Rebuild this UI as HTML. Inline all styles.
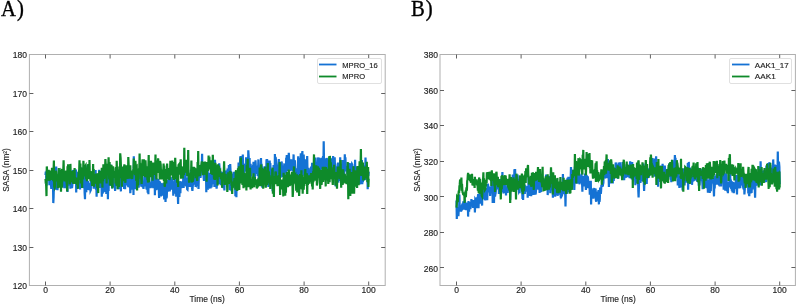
<!DOCTYPE html>
<html><head><meta charset="utf-8"><style>
html,body{margin:0;padding:0;background:#fff;width:799px;height:305px;overflow:hidden}
svg{display:block;will-change:transform;filter:blur(0.35px)}
.t{font-family:"Liberation Sans",sans-serif;font-size:8.5px;fill:#1e1e1e;stroke:#1e1e1e;stroke-width:0.15px}
.l{font-family:"Liberation Sans",sans-serif;font-size:7.6px;fill:#1e1e1e;stroke:#1e1e1e;stroke-width:0.15px}
.p{font-family:"Liberation Serif",serif;font-size:22px;fill:#000;stroke:#000;stroke-width:0.35px}
</style></head><body>
<svg width="799" height="305" viewBox="0 0 799 305">
<rect width="799" height="305" fill="#fff"/>
<text transform="translate(1,15.7) scale(0.943,1.08)" class="p">A<tspan dx="1">)</tspan></text>
<text transform="translate(411,15.7) scale(0.943,1.08)" class="p">B<tspan dx="1">)</tspan></text>
<polyline points="45.5,175.1 45.8,171.5 46.1,174.6 46.5,185.8 46.8,170.5 47.1,173.7 47.4,180.7 47.8,173.3 48.1,175.2 48.4,176.2 48.7,178.5 49.1,175.5 49.4,185.1 49.7,181.7 50.0,184.6 50.4,177.7 50.7,182.2 51.0,185.0 51.3,188.8 51.6,185.6 52.0,184.0 52.3,186.2 52.6,175.4 52.9,177.4 53.3,203.1 53.6,197.3 53.9,185.1 54.2,186.6 54.6,181.8 54.9,181.3 55.2,167.7 55.5,189.6 55.9,183.9 56.2,166.6 56.5,175.8 56.8,175.1 57.1,182.8 57.5,190.2 57.8,177.2 58.1,177.2 58.4,186.2 58.8,182.2 59.1,177.8 59.4,183.8 59.7,177.9 60.1,176.6 60.4,177.2 60.7,181.1 61.0,173.6 61.4,171.8 61.7,175.9 62.0,184.0 62.3,173.5 62.6,182.3 63.0,172.9 63.3,186.6 63.6,173.0 63.9,179.6 64.3,188.3 64.6,182.0 64.9,179.6 65.2,178.2 65.6,187.0 65.9,188.0 66.2,179.0 66.5,183.7 66.9,178.9 67.2,175.3 67.5,192.0 67.8,178.7 68.1,171.9 68.5,182.3 68.8,185.7 69.1,174.6 69.4,177.7 69.8,173.0 70.1,181.2 70.4,188.7 70.7,178.8 71.1,180.8 71.4,171.9 71.7,175.6 72.0,188.0 72.4,184.7 72.7,170.1 73.0,171.4 73.3,180.4 73.6,175.9 74.0,172.8 74.3,172.7 74.6,170.0 74.9,174.4 75.3,177.0 75.6,178.3 75.9,169.4 76.2,192.5 76.6,178.1 76.9,177.1 77.2,187.4 77.5,175.4 77.9,182.4 78.2,172.1 78.5,179.1 78.8,173.8 79.1,170.1 79.5,176.1 79.8,184.9 80.1,189.5 80.4,167.0 80.8,180.0 81.1,184.2 81.4,178.6 81.7,181.1 82.1,174.0 82.4,179.9 82.7,180.2 83.0,185.4 83.4,177.5 83.7,188.2 84.0,176.7 84.3,171.0 84.6,192.4 85.0,199.3 85.3,178.2 85.6,165.2 85.9,190.1 86.3,192.2 86.6,179.7 86.9,189.9 87.2,187.8 87.6,186.9 87.9,180.9 88.2,187.4 88.5,182.6 88.9,185.6 89.2,190.1 89.5,186.2 89.8,190.2 90.1,183.2 90.5,190.7 90.8,190.1 91.1,172.1 91.4,182.2 91.8,181.9 92.1,177.7 92.4,184.0 92.7,182.5 93.1,177.8 93.4,178.8 93.7,188.8 94.0,175.0 94.4,184.9 94.7,188.3 95.0,187.3 95.3,183.9 95.6,170.1 96.0,189.7 96.3,180.7 96.6,196.8 96.9,182.2 97.3,176.1 97.6,184.2 97.9,187.1 98.2,181.3 98.6,178.2 98.9,178.6 99.2,169.8 99.5,182.2 99.9,188.0 100.2,184.9 100.5,184.8 100.8,183.7 101.1,184.9 101.5,183.7 101.8,196.7 102.1,179.6 102.4,189.5 102.8,193.7 103.1,181.3 103.4,176.6 103.7,182.3 104.1,184.4 104.4,191.8 104.7,165.2 105.0,178.7 105.4,192.3 105.7,189.5 106.0,183.0 106.3,193.9 106.6,181.4 107.0,185.2 107.3,173.0 107.6,174.4 107.9,199.3 108.3,179.8 108.6,190.9 108.9,171.6 109.2,177.8 109.6,175.0 109.9,186.0 110.2,165.9 110.5,164.6 110.9,186.0 111.2,176.3 111.5,183.7 111.8,179.5 112.1,188.5 112.5,167.1 112.8,187.2 113.1,182.9 113.4,177.8 113.8,186.1 114.1,183.6 114.4,186.2 114.7,183.5 115.1,190.9 115.4,186.0 115.7,184.5 116.0,185.4 116.4,182.6 116.7,184.9 117.0,177.5 117.3,184.6 117.6,183.0 118.0,186.2 118.3,184.8 118.6,189.3 118.9,176.5 119.3,187.4 119.6,184.2 119.9,176.0 120.2,175.3 120.6,180.5 120.9,191.4 121.2,174.3 121.5,175.3 121.9,186.8 122.2,171.7 122.5,181.9 122.8,185.0 123.1,176.7 123.5,178.7 123.8,176.3 124.1,189.0 124.4,165.6 124.8,182.5 125.1,189.2 125.4,174.5 125.7,181.5 126.1,177.0 126.4,181.9 126.7,180.2 127.0,178.4 127.4,185.5 127.7,175.9 128.0,184.1 128.3,187.1 128.6,180.7 129.0,178.2 129.3,183.0 129.6,187.3 129.9,177.0 130.3,193.3 130.6,188.1 130.9,180.4 131.2,189.8 131.6,179.8 131.9,180.0 132.2,173.0 132.5,185.2 132.9,182.9 133.2,175.9 133.5,194.9 133.8,156.2 134.1,182.3 134.5,182.4 134.8,171.2 135.1,177.3 135.4,189.3 135.8,172.6 136.1,171.0 136.4,180.1 136.7,179.0 137.1,173.7 137.4,183.5 137.7,174.3 138.0,176.1 138.4,182.4 138.7,187.7 139.0,179.9 139.3,184.7 139.6,172.1 140.0,178.4 140.3,174.4 140.6,179.4 140.9,179.0 141.3,186.7 141.6,177.1 141.9,169.8 142.2,184.8 142.6,187.1 142.9,184.5 143.2,187.0 143.5,188.8 143.9,183.2 144.2,186.4 144.5,174.5 144.8,184.5 145.1,182.3 145.5,177.9 145.8,186.5 146.1,174.3 146.4,188.4 146.8,189.4 147.1,186.1 147.4,184.1 147.7,192.8 148.1,183.1 148.4,194.2 148.7,172.7 149.0,182.7 149.4,186.3 149.7,187.9 150.0,184.0 150.3,182.6 150.6,188.0 151.0,186.8 151.3,181.5 151.6,183.4 151.9,173.0 152.3,171.4 152.6,179.0 152.9,175.7 153.2,188.1 153.6,174.4 153.9,179.1 154.2,175.6 154.5,168.0 154.9,195.2 155.2,177.9 155.5,187.7 155.8,176.4 156.1,190.1 156.5,185.0 156.8,180.7 157.1,178.5 157.4,182.8 157.8,189.5 158.1,188.4 158.4,179.1 158.7,185.8 159.1,198.0 159.4,181.0 159.7,184.4 160.0,181.7 160.4,190.6 160.7,182.9 161.0,196.4 161.3,185.4 161.6,193.1 162.0,185.3 162.3,183.3 162.6,195.6 162.9,191.0 163.3,190.6 163.6,182.7 163.9,186.1 164.2,199.5 164.6,187.8 164.9,185.7 165.2,176.0 165.5,201.9 165.9,193.5 166.2,180.1 166.5,198.3 166.8,196.7 167.1,184.3 167.5,180.4 167.8,191.6 168.1,182.8 168.4,185.4 168.8,175.3 169.1,185.6 169.4,178.5 169.7,191.4 170.1,186.2 170.4,185.5 170.7,176.8 171.0,180.5 171.4,189.6 171.7,179.6 172.0,178.9 172.3,184.9 172.6,185.8 173.0,185.3 173.3,195.6 173.6,182.5 173.9,182.2 174.3,189.9 174.6,178.9 174.9,193.8 175.2,188.4 175.6,188.2 175.9,171.5 176.2,196.8 176.5,182.3 176.9,180.1 177.2,184.5 177.5,179.3 177.8,194.8 178.1,204.0 178.5,183.1 178.8,196.9 179.1,191.0 179.4,196.9 179.8,181.3 180.1,182.5 180.4,193.2 180.7,181.6 181.1,186.7 181.4,188.0 181.7,186.2 182.0,187.5 182.4,181.3 182.7,182.9 183.0,187.0 183.3,177.1 183.6,187.9 184.0,181.2 184.3,179.9 184.6,172.2 184.9,185.7 185.3,169.9 185.6,180.6 185.9,183.0 186.2,186.3 186.6,177.5 186.9,181.3 187.2,189.4 187.5,189.7 187.9,185.9 188.2,187.0 188.5,175.0 188.8,173.4 189.1,177.2 189.5,181.0 189.8,186.8 190.1,183.7 190.4,178.3 190.8,169.9 191.1,178.6 191.4,187.0 191.7,184.9 192.1,188.6 192.4,190.8 192.7,186.6 193.0,183.9 193.4,172.5 193.7,184.8 194.0,175.6 194.3,172.7 194.6,184.2 195.0,173.5 195.3,179.4 195.6,187.0 195.9,181.9 196.3,183.2 196.6,184.5 196.9,183.7 197.2,180.7 197.6,178.0 197.9,186.3 198.2,179.4 198.5,189.0 198.9,175.7 199.2,172.2 199.5,174.5 199.8,172.8 200.1,169.9 200.5,177.8 200.8,174.3 201.1,168.6 201.4,164.8 201.8,168.7 202.1,153.7 202.4,172.0 202.7,164.5 203.1,162.9 203.4,172.9 203.7,178.1 204.0,181.0 204.4,172.3 204.7,166.3 205.0,172.8 205.3,174.2 205.6,178.7 206.0,172.9 206.3,192.3 206.6,176.5 206.9,178.5 207.3,188.7 207.6,164.6 207.9,189.6 208.2,187.7 208.6,188.7 208.9,172.8 209.2,186.5 209.5,175.6 209.8,176.0 210.2,178.0 210.5,188.5 210.8,183.4 211.1,167.2 211.5,187.4 211.8,183.9 212.1,179.0 212.4,171.9 212.8,175.5 213.1,171.9 213.4,184.1 213.7,170.0 214.1,172.3 214.4,187.1 214.7,165.2 215.0,159.8 215.3,180.8 215.7,174.9 216.0,165.4 216.3,185.3 216.6,188.7 217.0,183.9 217.3,178.8 217.6,178.9 217.9,170.9 218.3,173.4 218.6,184.2 218.9,171.9 219.2,163.3 219.6,168.4 219.9,170.3 220.2,177.4 220.5,171.2 220.8,185.2 221.2,173.7 221.5,179.9 221.8,171.8 222.1,176.7 222.5,187.7 222.8,179.4 223.1,171.9 223.4,188.2 223.8,184.2 224.1,185.6 224.4,190.5 224.7,173.3 225.1,170.6 225.4,173.9 225.7,177.6 226.0,179.4 226.3,177.1 226.7,183.6 227.0,172.1 227.3,170.8 227.6,171.4 228.0,181.3 228.3,177.0 228.6,178.5 228.9,164.9 229.3,175.9 229.6,190.2 229.9,174.3 230.2,164.1 230.6,172.4 230.9,171.2 231.2,177.1 231.5,191.2 231.8,190.2 232.2,186.5 232.5,178.9 232.8,176.0 233.1,173.5 233.5,180.7 233.8,171.7 234.1,180.2 234.4,183.0 234.8,172.0 235.1,184.0 235.4,196.2 235.7,184.2 236.1,175.7 236.4,197.2 236.7,177.7 237.0,176.9 237.3,183.8 237.7,183.5 238.0,175.8 238.3,175.8 238.6,162.6 239.0,168.2 239.3,181.3 239.6,175.8 239.9,164.7 240.3,156.2 240.6,166.4 240.9,166.9 241.2,156.1 241.6,169.2 241.9,171.3 242.2,179.1 242.5,173.0 242.8,154.5 243.2,179.6 243.5,169.8 243.8,179.7 244.1,169.0 244.5,163.7 244.8,171.5 245.1,164.6 245.4,164.5 245.8,166.2 246.1,157.3 246.4,163.8 246.7,171.2 247.1,173.8 247.4,174.9 247.7,165.8 248.0,171.4 248.3,150.3 248.7,156.6 249.0,171.0 249.3,172.0 249.6,158.1 250.0,183.0 250.3,173.3 250.6,163.7 250.9,176.6 251.3,173.7 251.6,172.8 251.9,165.8 252.2,169.3 252.6,167.3 252.9,165.8 253.2,169.5 253.5,161.8 253.8,174.3 254.2,178.9 254.5,180.9 254.8,179.4 255.1,171.7 255.5,160.3 255.8,165.9 256.1,171.0 256.4,174.0 256.8,170.0 257.1,169.0 257.4,170.0 257.7,176.0 258.1,169.5 258.4,159.4 258.7,181.8 259.0,168.8 259.3,182.3 259.7,166.9 260.0,173.9 260.3,183.8 260.6,169.3 261.0,158.1 261.3,170.5 261.6,163.8 261.9,172.8 262.3,187.6 262.6,169.5 262.9,176.0 263.2,183.2 263.6,167.6 263.9,170.9 264.2,176.2 264.5,166.2 264.8,177.9 265.2,166.9 265.5,177.4 265.8,166.8 266.1,177.7 266.5,159.3 266.8,167.5 267.1,159.1 267.4,174.4 267.8,171.7 268.1,162.4 268.4,187.0 268.7,175.2 269.1,160.5 269.4,164.3 269.7,160.5 270.0,169.3 270.3,163.1 270.7,172.0 271.0,176.3 271.3,178.4 271.6,170.5 272.0,170.4 272.3,171.0 272.6,191.3 272.9,180.6 273.3,170.6 273.6,165.1 273.9,171.3 274.2,173.6 274.6,183.7 274.9,154.0 275.2,175.9 275.5,156.9 275.8,158.1 276.2,167.3 276.5,173.4 276.8,168.8 277.1,178.0 277.5,168.5 277.8,170.5 278.1,167.1 278.4,164.3 278.8,159.1 279.1,173.9 279.4,164.0 279.7,176.7 280.1,177.3 280.4,175.3 280.7,177.7 281.0,164.0 281.3,164.1 281.7,161.5 282.0,170.2 282.3,167.8 282.6,173.4 283.0,177.0 283.3,165.6 283.6,166.4 283.9,175.5 284.3,163.4 284.6,179.0 284.9,167.7 285.2,170.3 285.6,169.1 285.9,172.4 286.2,157.7 286.5,159.9 286.8,155.1 287.2,161.9 287.5,171.3 287.8,164.5 288.1,169.8 288.5,158.1 288.8,152.7 289.1,158.6 289.4,165.0 289.8,163.4 290.1,159.6 290.4,171.2 290.7,160.4 291.1,160.4 291.4,166.0 291.7,165.6 292.0,162.1 292.3,169.5 292.7,170.1 293.0,159.6 293.3,164.0 293.6,154.4 294.0,173.4 294.3,179.3 294.6,160.8 294.9,161.0 295.3,172.9 295.6,178.1 295.9,168.3 296.2,180.1 296.6,170.3 296.9,183.0 297.2,169.3 297.5,182.2 297.8,168.9 298.2,156.4 298.5,168.5 298.8,161.0 299.1,170.5 299.5,171.9 299.8,175.8 300.1,157.9 300.4,165.2 300.8,153.3 301.1,172.5 301.4,165.6 301.7,163.4 302.1,154.0 302.4,151.0 302.7,168.1 303.0,171.5 303.3,175.7 303.7,154.6 304.0,164.6 304.3,168.8 304.6,164.9 305.0,182.7 305.3,177.3 305.6,159.3 305.9,163.5 306.3,165.8 306.6,174.3 306.9,163.8 307.2,156.1 307.6,177.4 307.9,169.3 308.2,172.9 308.5,167.8 308.8,170.6 309.2,172.0 309.5,177.3 309.8,171.4 310.1,175.7 310.5,172.4 310.8,171.8 311.1,166.6 311.4,175.0 311.8,172.9 312.1,162.9 312.4,171.4 312.7,171.3 313.1,163.0 313.4,166.7 313.7,167.5 314.0,166.2 314.3,175.9 314.7,163.8 315.0,157.5 315.3,162.4 315.6,177.1 316.0,164.3 316.3,172.5 316.6,167.9 316.9,165.5 317.3,174.8 317.6,157.4 317.9,167.3 318.2,161.4 318.6,162.6 318.9,157.8 319.2,158.9 319.5,177.4 319.8,166.8 320.2,181.8 320.5,170.1 320.8,161.9 321.1,160.4 321.5,157.8 321.8,169.3 322.1,164.5 322.4,166.1 322.8,158.1 323.1,156.1 323.4,169.8 323.7,141.3 324.1,167.8 324.4,170.6 324.7,164.1 325.0,163.2 325.3,164.9 325.7,173.3 326.0,158.6 326.3,168.4 326.6,158.1 327.0,159.0 327.3,177.3 327.6,175.2 327.9,175.2 328.3,166.5 328.6,167.7 328.9,166.2 329.2,173.8 329.6,165.3 329.9,158.7 330.2,178.0 330.5,170.4 330.8,167.6 331.2,170.6 331.5,171.4 331.8,158.2 332.1,161.9 332.5,165.2 332.8,176.6 333.1,156.1 333.4,169.3 333.8,175.9 334.1,174.3 334.4,175.3 334.7,157.2 335.1,170.3 335.4,171.2 335.7,186.4 336.0,166.2 336.3,178.4 336.7,178.8 337.0,166.5 337.3,176.6 337.6,164.7 338.0,162.6 338.3,182.6 338.6,171.1 338.9,181.0 339.3,170.4 339.6,163.6 339.9,179.3 340.2,157.3 340.6,171.9 340.9,177.8 341.2,170.3 341.5,163.8 341.8,178.7 342.2,168.9 342.5,178.2 342.8,160.1 343.1,167.1 343.5,170.9 343.8,160.5 344.1,176.3 344.4,169.9 344.8,154.2 345.1,167.7 345.4,157.3 345.7,165.2 346.1,171.4 346.4,168.3 346.7,166.1 347.0,169.6 347.3,172.7 347.7,172.6 348.0,177.7 348.3,166.9 348.6,165.2 349.0,163.0 349.3,180.9 349.6,163.1 349.9,169.2 350.3,179.2 350.6,168.9 350.9,164.2 351.2,166.5 351.6,165.3 351.9,164.0 352.2,164.6 352.5,171.3 352.8,185.7 353.2,176.7 353.5,169.2 353.8,175.1 354.1,167.3 354.5,166.8 354.8,172.2 355.1,159.7 355.4,179.7 355.8,166.8 356.1,176.7 356.4,179.1 356.7,169.8 357.1,178.3 357.4,168.3 357.7,182.5 358.0,174.4 358.3,180.6 358.7,176.6 359.0,177.7 359.3,183.1 359.6,170.9 360.0,184.2 360.3,182.4 360.6,169.6 360.9,169.1 361.3,171.2 361.6,173.5 361.9,160.0 362.2,184.1 362.6,180.7 362.9,182.2 363.2,168.9 363.5,172.8 363.8,166.8 364.2,167.4 364.5,175.4 364.8,179.1 365.1,180.0 365.5,157.5 365.8,165.9 366.1,168.3 366.4,174.7 366.8,173.7 367.1,174.7 367.4,174.7 367.7,189.3 368.1,173.3 368.4,175.9 368.7,171.6" fill="none" stroke="#1472d4" stroke-width="2.2" stroke-linejoin="miter"/>
<polyline points="45.5,179.0 45.8,183.6 46.1,182.5 46.5,196.1 46.8,166.4 47.1,170.5 47.4,180.3 47.8,172.3 48.1,175.3 48.4,180.7 48.7,169.7 49.1,178.2 49.4,178.0 49.7,180.8 50.0,171.8 50.4,175.3 50.7,170.6 51.0,178.3 51.3,173.0 51.6,179.9 52.0,167.8 52.3,172.3 52.6,171.4 52.9,171.0 53.3,181.1 53.6,169.0 53.9,160.6 54.2,186.6 54.6,187.8 54.9,186.8 55.2,171.2 55.5,176.7 55.9,170.7 56.2,173.8 56.5,177.8 56.8,177.8 57.1,181.3 57.5,174.3 57.8,188.3 58.1,183.5 58.4,178.9 58.8,168.0 59.1,185.6 59.4,187.6 59.7,183.8 60.1,172.8 60.4,180.9 60.7,169.8 61.0,191.7 61.4,170.6 61.7,171.0 62.0,187.8 62.3,176.6 62.6,169.0 63.0,176.6 63.3,170.1 63.6,160.3 63.9,174.6 64.3,178.2 64.6,181.4 64.9,171.3 65.2,176.9 65.6,176.6 65.9,175.9 66.2,170.5 66.5,182.2 66.9,185.3 67.2,191.5 67.5,166.3 67.8,174.2 68.1,164.3 68.5,174.9 68.8,180.2 69.1,171.9 69.4,176.0 69.8,184.3 70.1,182.0 70.4,163.9 70.7,173.9 71.1,173.7 71.4,178.8 71.7,181.8 72.0,171.0 72.4,178.0 72.7,182.7 73.0,178.4 73.3,183.9 73.6,176.4 74.0,170.0 74.3,183.6 74.6,168.0 74.9,182.6 75.3,177.0 75.6,183.9 75.9,179.7 76.2,177.9 76.6,181.2 76.9,183.1 77.2,182.9 77.5,183.8 77.9,188.9 78.2,179.8 78.5,175.0 78.8,171.4 79.1,173.0 79.5,160.2 79.8,174.8 80.1,179.9 80.4,163.5 80.8,183.4 81.1,169.0 81.4,181.9 81.7,172.4 82.1,188.0 82.4,167.6 82.7,174.5 83.0,179.6 83.4,160.8 83.7,166.7 84.0,171.3 84.3,176.5 84.6,171.4 85.0,172.2 85.3,166.0 85.6,165.5 85.9,175.9 86.3,175.2 86.6,175.4 86.9,181.3 87.2,176.4 87.6,173.3 87.9,168.2 88.2,164.2 88.5,179.2 88.9,170.1 89.2,177.2 89.5,159.9 89.8,174.7 90.1,171.0 90.5,181.1 90.8,180.3 91.1,173.4 91.4,177.6 91.8,172.6 92.1,186.1 92.4,170.9 92.7,182.0 93.1,164.1 93.4,178.3 93.7,169.1 94.0,186.7 94.4,174.4 94.7,183.9 95.0,181.4 95.3,178.1 95.6,180.7 96.0,176.8 96.3,173.6 96.6,174.3 96.9,179.4 97.3,188.2 97.6,184.3 97.9,179.9 98.2,193.1 98.6,172.9 98.9,179.6 99.2,179.4 99.5,170.9 99.9,172.5 100.2,175.3 100.5,183.5 100.8,174.0 101.1,173.4 101.5,181.5 101.8,167.7 102.1,170.9 102.4,187.6 102.8,172.5 103.1,181.6 103.4,164.3 103.7,166.1 104.1,178.8 104.4,176.8 104.7,169.5 105.0,171.5 105.4,159.0 105.7,164.2 106.0,171.2 106.3,165.2 106.6,183.4 107.0,167.3 107.3,163.7 107.6,171.2 107.9,175.2 108.3,166.7 108.6,157.4 108.9,170.0 109.2,179.5 109.6,162.1 109.9,185.5 110.2,169.3 110.5,177.1 110.9,166.9 111.2,179.5 111.5,164.7 111.8,172.0 112.1,186.3 112.5,188.3 112.8,177.1 113.1,166.2 113.4,174.6 113.8,175.2 114.1,177.6 114.4,171.0 114.7,173.8 115.1,174.6 115.4,183.5 115.7,168.5 116.0,167.3 116.4,185.7 116.7,160.7 117.0,171.5 117.3,179.7 117.6,189.3 118.0,171.2 118.3,171.6 118.6,179.2 118.9,187.1 119.3,166.5 119.6,178.0 119.9,176.7 120.2,153.3 120.6,157.8 120.9,165.5 121.2,174.9 121.5,166.9 121.9,186.8 122.2,170.0 122.5,175.7 122.8,179.2 123.1,181.1 123.5,166.4 123.8,169.5 124.1,169.0 124.4,164.3 124.8,176.1 125.1,179.0 125.4,182.8 125.7,172.9 126.1,165.4 126.4,171.8 126.7,166.3 127.0,178.9 127.4,173.8 127.7,175.7 128.0,178.9 128.3,157.1 128.6,163.8 129.0,174.7 129.3,174.5 129.6,169.3 129.9,178.6 130.3,165.4 130.6,177.2 130.9,170.6 131.2,175.1 131.6,171.2 131.9,177.2 132.2,179.0 132.5,174.9 132.9,173.1 133.2,170.7 133.5,168.4 133.8,158.6 134.1,163.9 134.5,171.6 134.8,165.2 135.1,175.3 135.4,160.8 135.8,167.3 136.1,180.8 136.4,166.4 136.7,166.1 137.1,190.5 137.4,177.2 137.7,175.3 138.0,185.4 138.4,179.4 138.7,178.6 139.0,168.4 139.3,169.7 139.6,153.4 140.0,174.2 140.3,163.3 140.6,170.6 140.9,169.1 141.3,178.9 141.6,183.9 141.9,175.9 142.2,165.1 142.6,159.4 142.9,166.1 143.2,166.8 143.5,176.0 143.9,159.6 144.2,160.9 144.5,173.9 144.8,170.6 145.1,177.2 145.5,160.2 145.8,167.6 146.1,171.2 146.4,167.8 146.8,167.6 147.1,173.5 147.4,179.2 147.7,179.5 148.1,182.6 148.4,167.3 148.7,155.1 149.0,182.1 149.4,169.3 149.7,167.2 150.0,176.7 150.3,168.3 150.6,177.1 151.0,160.9 151.3,173.1 151.6,168.1 151.9,163.8 152.3,171.3 152.6,180.6 152.9,171.6 153.2,162.5 153.6,168.3 153.9,166.0 154.2,175.0 154.5,166.5 154.9,162.5 155.2,167.3 155.5,154.5 155.8,169.2 156.1,175.2 156.5,179.4 156.8,160.4 157.1,169.0 157.4,161.9 157.8,166.1 158.1,158.3 158.4,161.1 158.7,172.8 159.1,168.5 159.4,163.2 159.7,179.5 160.0,161.1 160.4,162.9 160.7,164.7 161.0,173.0 161.3,169.6 161.6,179.5 162.0,171.4 162.3,175.8 162.6,171.2 162.9,175.2 163.3,169.8 163.6,163.6 163.9,180.9 164.2,165.4 164.6,185.6 164.9,186.8 165.2,172.7 165.5,171.9 165.9,168.9 166.2,183.4 166.5,172.5 166.8,171.2 167.1,163.5 167.5,173.0 167.8,168.8 168.1,179.3 168.4,174.0 168.8,175.9 169.1,168.0 169.4,179.9 169.7,178.9 170.1,169.2 170.4,160.8 170.7,170.6 171.0,171.1 171.4,175.5 171.7,165.4 172.0,169.0 172.3,160.5 172.6,170.0 173.0,178.6 173.3,175.7 173.6,178.3 173.9,179.9 174.3,162.1 174.6,165.0 174.9,178.9 175.2,157.8 175.6,168.2 175.9,176.3 176.2,166.9 176.5,169.9 176.9,174.6 177.2,182.7 177.5,168.9 177.8,167.1 178.1,186.9 178.5,165.1 178.8,164.7 179.1,172.2 179.4,168.1 179.8,170.7 180.1,174.6 180.4,171.2 180.7,159.3 181.1,178.7 181.4,166.9 181.7,167.3 182.0,173.5 182.4,171.6 182.7,178.3 183.0,174.6 183.3,168.6 183.6,166.6 184.0,175.1 184.3,147.8 184.6,173.0 184.9,168.2 185.3,170.7 185.6,171.9 185.9,160.1 186.2,172.4 186.6,159.8 186.9,161.1 187.2,176.3 187.5,161.8 187.9,173.5 188.2,150.1 188.5,171.8 188.8,175.8 189.1,182.6 189.5,178.5 189.8,173.7 190.1,176.8 190.4,178.6 190.8,175.1 191.1,171.9 191.4,160.6 191.7,182.6 192.1,174.8 192.4,177.7 192.7,181.8 193.0,180.2 193.4,177.8 193.7,166.7 194.0,173.2 194.3,175.7 194.6,167.8 195.0,170.2 195.3,173.9 195.6,169.7 195.9,178.2 196.3,168.2 196.6,169.3 196.9,175.4 197.2,180.9 197.6,161.9 197.9,171.6 198.2,151.0 198.5,176.5 198.9,165.8 199.2,174.4 199.5,169.3 199.8,165.0 200.1,175.9 200.5,170.8 200.8,168.6 201.1,168.5 201.4,164.8 201.8,161.5 202.1,162.5 202.4,166.1 202.7,170.1 203.1,175.2 203.4,172.2 203.7,170.5 204.0,161.9 204.4,168.9 204.7,174.7 205.0,161.6 205.3,171.3 205.6,170.8 206.0,166.9 206.3,161.9 206.6,181.7 206.9,172.6 207.3,163.6 207.6,167.4 207.9,170.9 208.2,168.8 208.6,155.5 208.9,168.3 209.2,160.4 209.5,159.9 209.8,168.7 210.2,162.6 210.5,168.9 210.8,170.2 211.1,173.9 211.5,160.3 211.8,169.3 212.1,170.6 212.4,174.8 212.8,154.8 213.1,162.5 213.4,168.8 213.7,173.1 214.1,179.4 214.4,167.2 214.7,167.8 215.0,180.0 215.3,162.8 215.7,166.0 216.0,178.5 216.3,176.2 216.6,175.8 217.0,172.2 217.3,174.8 217.6,185.5 217.9,164.3 218.3,172.6 218.6,166.4 218.9,166.6 219.2,176.9 219.6,173.1 219.9,170.4 220.2,170.1 220.5,176.2 220.8,179.0 221.2,174.2 221.5,179.7 221.8,177.8 222.1,187.8 222.5,173.0 222.8,180.7 223.1,177.5 223.4,174.1 223.8,171.8 224.1,161.2 224.4,173.2 224.7,184.9 225.1,174.7 225.4,180.3 225.7,173.9 226.0,182.0 226.3,182.7 226.7,181.9 227.0,183.2 227.3,192.0 227.6,184.4 228.0,180.3 228.3,172.3 228.6,183.0 228.9,183.9 229.3,177.6 229.6,178.1 229.9,170.9 230.2,178.1 230.6,182.4 230.9,173.0 231.2,171.7 231.5,185.7 231.8,181.3 232.2,194.0 232.5,184.8 232.8,188.3 233.1,183.5 233.5,185.3 233.8,182.9 234.1,182.3 234.4,178.0 234.8,179.6 235.1,184.9 235.4,189.7 235.7,171.9 236.1,170.4 236.4,183.1 236.7,175.8 237.0,189.9 237.3,189.9 237.7,180.6 238.0,168.2 238.3,185.3 238.6,183.4 239.0,166.2 239.3,190.1 239.6,172.1 239.9,172.9 240.3,177.5 240.6,174.5 240.9,157.5 241.2,183.3 241.6,177.6 241.9,177.1 242.2,180.3 242.5,184.9 242.8,164.7 243.2,174.4 243.5,188.3 243.8,181.2 244.1,173.8 244.5,174.0 244.8,187.1 245.1,177.9 245.4,175.7 245.8,175.0 246.1,175.1 246.4,190.6 246.7,165.3 247.1,176.8 247.4,165.9 247.7,158.7 248.0,179.7 248.3,187.3 248.7,172.9 249.0,180.3 249.3,182.3 249.6,186.5 250.0,167.8 250.3,182.7 250.6,189.5 250.9,183.1 251.3,188.2 251.6,179.3 251.9,183.5 252.2,188.2 252.6,176.9 252.9,185.9 253.2,176.7 253.5,173.3 253.8,184.9 254.2,187.1 254.5,181.5 254.8,177.0 255.1,183.4 255.5,182.6 255.8,183.8 256.1,181.5 256.4,179.3 256.8,188.5 257.1,186.8 257.4,182.9 257.7,187.5 258.1,181.5 258.4,178.3 258.7,181.7 259.0,185.1 259.3,185.7 259.7,167.6 260.0,173.0 260.3,186.2 260.6,183.7 261.0,164.4 261.3,166.4 261.6,175.6 261.9,168.1 262.3,186.2 262.6,175.8 262.9,170.7 263.2,188.8 263.6,181.5 263.9,170.9 264.2,168.8 264.5,181.1 264.8,175.4 265.2,166.7 265.5,180.9 265.8,187.8 266.1,179.3 266.5,181.9 266.8,170.4 267.1,178.5 267.4,185.3 267.8,163.1 268.1,183.3 268.4,176.5 268.7,175.0 269.1,174.2 269.4,178.3 269.7,175.3 270.0,179.7 270.3,189.0 270.7,180.6 271.0,180.3 271.3,180.1 271.6,177.8 272.0,183.0 272.3,169.5 272.6,167.7 272.9,193.8 273.3,178.6 273.6,183.6 273.9,196.9 274.2,176.1 274.6,183.4 274.9,182.0 275.2,184.1 275.5,172.3 275.8,171.6 276.2,178.5 276.5,175.8 276.8,181.6 277.1,180.0 277.5,186.2 277.8,180.8 278.1,186.0 278.4,178.4 278.8,175.2 279.1,178.7 279.4,172.6 279.7,162.0 280.1,195.1 280.4,180.2 280.7,184.1 281.0,183.2 281.3,189.4 281.7,179.6 282.0,181.8 282.3,184.4 282.6,181.8 283.0,184.2 283.3,196.4 283.6,172.8 283.9,182.5 284.3,187.0 284.6,178.4 284.9,185.3 285.2,195.8 285.6,174.8 285.9,192.7 286.2,182.7 286.5,180.4 286.8,172.1 287.2,173.3 287.5,180.5 287.8,187.1 288.1,184.8 288.5,174.4 288.8,169.6 289.1,178.1 289.4,186.3 289.8,174.6 290.1,184.3 290.4,184.4 290.7,183.4 291.1,177.2 291.4,179.2 291.7,174.0 292.0,171.8 292.3,177.1 292.7,196.9 293.0,192.5 293.3,179.8 293.6,181.6 294.0,166.4 294.3,181.8 294.6,182.9 294.9,175.6 295.3,175.0 295.6,184.2 295.9,179.4 296.2,190.7 296.6,189.4 296.9,174.2 297.2,192.4 297.5,176.1 297.8,177.6 298.2,176.7 298.5,175.4 298.8,177.5 299.1,196.0 299.5,187.8 299.8,184.7 300.1,174.0 300.4,187.9 300.8,184.7 301.1,182.1 301.4,170.3 301.7,189.3 302.1,188.5 302.4,174.7 302.7,193.7 303.0,176.6 303.3,182.0 303.7,189.8 304.0,181.9 304.3,186.0 304.6,177.9 305.0,176.7 305.3,169.1 305.6,179.7 305.9,179.1 306.3,184.0 306.6,180.5 306.9,173.2 307.2,194.1 307.6,176.4 307.9,184.8 308.2,180.7 308.5,178.9 308.8,175.3 309.2,179.4 309.5,183.6 309.8,178.5 310.1,180.2 310.5,181.4 310.8,178.1 311.1,173.0 311.4,177.6 311.8,177.0 312.1,186.5 312.4,178.0 312.7,189.5 313.1,171.2 313.4,182.3 313.7,166.5 314.0,154.4 314.3,177.7 314.7,165.6 315.0,171.9 315.3,178.6 315.6,180.5 316.0,170.9 316.3,165.2 316.6,172.5 316.9,185.5 317.3,182.5 317.6,177.1 317.9,166.3 318.2,174.0 318.6,173.9 318.9,167.9 319.2,177.8 319.5,177.1 319.8,177.8 320.2,188.9 320.5,173.4 320.8,173.8 321.1,169.9 321.5,184.8 321.8,182.2 322.1,170.0 322.4,174.1 322.8,166.7 323.1,182.0 323.4,174.4 323.7,180.3 324.1,173.2 324.4,178.4 324.7,171.0 325.0,166.9 325.3,169.5 325.7,186.4 326.0,167.0 326.3,170.2 326.6,180.3 327.0,179.0 327.3,172.7 327.6,168.7 327.9,175.8 328.3,184.0 328.6,170.9 328.9,171.7 329.2,156.2 329.6,182.2 329.9,155.9 330.2,161.5 330.5,171.6 330.8,162.4 331.2,173.3 331.5,167.3 331.8,179.2 332.1,173.6 332.5,181.1 332.8,185.0 333.1,175.9 333.4,178.5 333.8,169.9 334.1,164.9 334.4,174.9 334.7,173.3 335.1,172.4 335.4,185.4 335.7,172.0 336.0,173.9 336.3,174.6 336.7,182.1 337.0,188.6 337.3,176.9 337.6,173.4 338.0,166.7 338.3,168.5 338.6,166.7 338.9,174.6 339.3,169.6 339.6,179.3 339.9,173.8 340.2,172.0 340.6,160.0 340.9,177.1 341.2,187.7 341.5,169.3 341.8,184.4 342.2,179.3 342.5,180.8 342.8,184.9 343.1,169.3 343.5,174.4 343.8,182.7 344.1,177.9 344.4,181.3 344.8,173.9 345.1,180.7 345.4,183.3 345.7,182.4 346.1,181.0 346.4,175.9 346.7,184.3 347.0,178.6 347.3,175.0 347.7,162.0 348.0,172.4 348.3,199.2 348.6,182.3 349.0,181.7 349.3,177.0 349.6,168.7 349.9,174.7 350.3,196.1 350.6,178.4 350.9,180.1 351.2,178.3 351.6,172.0 351.9,189.2 352.2,174.3 352.5,193.6 352.8,181.8 353.2,179.5 353.5,166.3 353.8,186.9 354.1,193.6 354.5,176.9 354.8,186.0 355.1,170.3 355.4,185.7 355.8,186.5 356.1,171.3 356.4,178.8 356.7,171.8 357.1,188.0 357.4,166.0 357.7,180.8 358.0,170.3 358.3,182.2 358.7,185.2 359.0,175.5 359.3,171.8 359.6,161.4 360.0,169.3 360.3,166.3 360.6,166.2 360.9,148.9 361.3,175.9 361.6,161.4 361.9,171.1 362.2,168.4 362.6,174.1 362.9,162.5 363.2,179.6 363.5,180.4 363.8,173.1 364.2,180.1 364.5,167.6 364.8,166.5 365.1,178.5 365.5,168.2 365.8,178.5 366.1,174.5 366.4,174.4 366.8,161.7 367.1,174.9 367.4,181.3 367.7,181.5 368.1,166.9 368.4,186.9 368.7,178.6" fill="none" stroke="#0e8a2a" stroke-width="2.2" stroke-linejoin="miter"/>
<rect x="29.4" y="54.5" width="355.8" height="231.0" fill="none" stroke="#b0b0b0" stroke-width="1"/>
<path d="M45.5,285.5V281.5M45.5,54.5V58.5M110.1,285.5V281.5M110.1,54.5V58.5M174.8,285.5V281.5M174.8,54.5V58.5M239.4,285.5V281.5M239.4,54.5V58.5M304.1,285.5V281.5M304.1,54.5V58.5M368.7,285.5V281.5M368.7,54.5V58.5M29.4,247.5H33.4M385.2,247.5H381.2M29.4,208.5H33.4M385.2,208.5H381.2M29.4,170.5H33.4M385.2,170.5H381.2M29.4,131.5H33.4M385.2,131.5H381.2M29.4,93.5H33.4M385.2,93.5H381.2" stroke="#606060" stroke-width="1" fill="none"/>
<text x="45.5" y="293" text-anchor="middle" class="t">0</text>
<text x="110.1" y="293" text-anchor="middle" class="t">20</text>
<text x="174.8" y="293" text-anchor="middle" class="t">40</text>
<text x="239.4" y="293" text-anchor="middle" class="t">60</text>
<text x="304.1" y="293" text-anchor="middle" class="t">80</text>
<text x="368.7" y="293" text-anchor="middle" class="t">100</text>
<text x="27" y="289.3" text-anchor="end" class="t">120</text>
<text x="27" y="250.8" text-anchor="end" class="t">130</text>
<text x="27" y="212.3" text-anchor="end" class="t">140</text>
<text x="27" y="173.8" text-anchor="end" class="t">150</text>
<text x="27" y="135.3" text-anchor="end" class="t">160</text>
<text x="27" y="96.8" text-anchor="end" class="t">170</text>
<text x="27" y="58.3" text-anchor="end" class="t">180</text>
<text x="189.5" y="302.2" class="t" textLength="35.2" lengthAdjust="spacingAndGlyphs">Time (ns)</text>
<text transform="translate(8.899999999999999,170) rotate(-90)" x="-21.8" class="t" textLength="43.6" lengthAdjust="spacingAndGlyphs">SASA (nm²)</text>
<rect x="317.5" y="58.5" width="64.0" height="25.0" rx="1.5" fill="#fff" stroke="#e0e0e0" stroke-width="1"/>
<path d="M319.0,64.5H336.5" stroke="#1472d4" stroke-width="1.8"/>
<path d="M319.0,76.5H336.5" stroke="#0e8a2a" stroke-width="1.8"/>
<text x="342.3" y="67.8" class="l">MPRO_16</text>
<text x="342.3" y="79.3" class="l">MPRO</text>
<polyline points="456.5,200.6 456.8,218.9 457.1,207.0 457.5,210.8 457.8,210.3 458.1,209.2 458.4,216.3 458.8,209.1 459.1,211.4 459.4,194.6 459.7,206.8 460.1,209.0 460.4,208.6 460.7,210.1 461.0,211.6 461.4,208.9 461.7,205.4 462.0,208.3 462.3,203.6 462.6,208.2 463.0,207.4 463.3,201.4 463.6,205.4 463.9,209.5 464.3,208.2 464.6,205.2 464.9,199.6 465.2,208.2 465.6,208.0 465.9,202.8 466.2,210.2 466.5,207.5 466.9,202.6 467.2,203.6 467.5,205.3 467.8,202.8 468.1,216.6 468.5,201.1 468.8,208.9 469.1,211.7 469.4,203.8 469.8,202.1 470.1,206.6 470.4,209.1 470.7,204.7 471.1,205.0 471.4,199.1 471.7,201.7 472.0,203.8 472.4,200.0 472.7,205.1 473.0,207.8 473.3,201.6 473.6,201.4 474.0,204.3 474.3,206.2 474.6,201.9 474.9,212.4 475.3,199.4 475.6,199.9 475.9,208.1 476.2,200.9 476.6,204.6 476.9,197.2 477.2,208.3 477.5,203.4 477.9,196.3 478.2,194.1 478.5,208.2 478.8,200.9 479.1,197.1 479.5,201.2 479.8,191.3 480.1,203.7 480.4,196.6 480.8,203.0 481.1,191.4 481.4,197.9 481.7,199.4 482.1,205.6 482.4,188.9 482.7,193.1 483.0,192.7 483.4,190.3 483.7,193.8 484.0,198.3 484.3,198.6 484.6,198.1 485.0,186.3 485.3,200.5 485.6,195.5 485.9,193.6 486.3,190.3 486.6,188.1 486.9,197.7 487.2,200.1 487.6,190.5 487.9,183.7 488.2,186.2 488.5,189.3 488.9,192.4 489.2,189.1 489.5,192.4 489.8,186.6 490.1,196.0 490.5,190.9 490.8,192.5 491.1,188.8 491.4,190.7 491.8,177.4 492.1,183.3 492.4,183.1 492.7,203.0 493.1,193.1 493.4,194.3 493.7,187.5 494.0,203.1 494.4,183.2 494.7,183.5 495.0,196.7 495.3,194.6 495.6,193.3 496.0,188.4 496.3,184.8 496.6,176.7 496.9,189.4 497.3,183.9 497.6,187.3 497.9,178.1 498.2,183.8 498.6,180.1 498.9,194.0 499.2,189.0 499.5,192.4 499.9,179.1 500.2,183.8 500.5,189.1 500.8,189.8 501.1,184.2 501.5,190.7 501.8,191.8 502.1,183.6 502.4,172.1 502.8,187.4 503.1,189.0 503.4,192.4 503.7,193.3 504.1,182.8 504.4,181.0 504.7,185.8 505.0,184.1 505.4,185.5 505.7,185.6 506.0,195.4 506.3,189.6 506.6,186.6 507.0,192.0 507.3,190.6 507.6,192.8 507.9,190.2 508.3,183.7 508.6,191.0 508.9,189.6 509.2,184.1 509.6,185.0 509.9,178.8 510.2,200.1 510.5,183.0 510.9,190.1 511.2,186.1 511.5,181.5 511.8,179.5 512.1,179.1 512.5,183.5 512.8,174.6 513.1,184.8 513.4,183.5 513.8,177.7 514.1,185.0 514.4,169.3 514.7,175.6 515.1,169.0 515.4,181.6 515.7,183.7 516.0,180.8 516.4,177.9 516.7,185.7 517.0,180.6 517.3,183.3 517.6,174.5 518.0,187.9 518.3,178.7 518.6,188.8 518.9,191.1 519.3,190.1 519.6,193.3 519.9,186.2 520.2,181.6 520.6,187.0 520.9,184.7 521.2,179.4 521.5,187.5 521.9,188.2 522.2,191.1 522.5,198.9 522.8,185.6 523.1,199.9 523.5,186.2 523.8,190.0 524.1,183.4 524.4,189.9 524.8,194.0 525.1,186.9 525.4,191.7 525.7,189.1 526.1,187.4 526.4,187.9 526.7,187.8 527.0,191.0 527.4,187.0 527.7,197.7 528.0,186.1 528.3,191.8 528.6,178.5 529.0,177.6 529.3,195.9 529.6,184.1 529.9,185.8 530.3,191.3 530.6,182.6 530.9,188.5 531.2,196.3 531.6,188.1 531.9,187.8 532.2,186.7 532.5,194.6 532.9,184.4 533.2,184.0 533.5,194.9 533.8,192.3 534.1,189.2 534.5,192.0 534.8,178.9 535.1,187.7 535.4,194.5 535.8,193.1 536.1,188.8 536.4,175.2 536.7,189.0 537.1,187.0 537.4,184.5 537.7,187.4 538.0,174.0 538.4,189.8 538.7,182.3 539.0,185.5 539.3,182.8 539.6,193.0 540.0,176.2 540.3,187.0 540.6,186.2 540.9,191.8 541.3,190.7 541.6,183.5 541.9,181.2 542.2,182.6 542.6,180.1 542.9,182.9 543.2,186.8 543.5,182.1 543.9,183.4 544.2,187.2 544.5,182.3 544.8,178.9 545.1,184.7 545.5,187.8 545.8,181.5 546.1,174.6 546.4,186.4 546.8,185.6 547.1,185.7 547.4,177.8 547.7,195.1 548.1,182.6 548.4,177.8 548.7,189.2 549.0,176.0 549.4,181.4 549.7,187.5 550.0,183.3 550.3,193.1 550.6,187.6 551.0,173.9 551.3,189.4 551.6,173.9 551.9,184.9 552.3,178.9 552.6,184.5 552.9,197.7 553.2,188.5 553.6,184.4 553.9,192.3 554.2,193.7 554.5,184.3 554.9,190.4 555.2,196.6 555.5,191.1 555.8,182.6 556.1,190.4 556.5,182.6 556.8,179.3 557.1,187.9 557.4,194.6 557.8,195.7 558.1,188.5 558.4,183.4 558.7,186.9 559.1,185.4 559.4,191.1 559.7,187.0 560.0,191.5 560.4,190.8 560.7,196.5 561.0,198.2 561.3,192.3 561.6,196.1 562.0,195.4 562.3,186.4 562.6,191.0 562.9,174.1 563.3,185.5 563.6,194.2 563.9,186.0 564.2,188.2 564.6,193.9 564.9,183.4 565.2,193.8 565.5,206.5 565.9,184.2 566.2,191.8 566.5,179.5 566.8,191.2 567.1,193.8 567.5,177.8 567.8,192.3 568.1,184.5 568.4,176.9 568.8,184.0 569.1,184.6 569.4,183.0 569.7,178.2 570.1,186.9 570.4,178.2 570.7,177.8 571.0,167.1 571.4,181.7 571.7,184.3 572.0,174.3 572.3,180.2 572.6,175.7 573.0,176.1 573.3,169.8 573.6,179.8 573.9,176.2 574.3,190.0 574.6,180.4 574.9,166.4 575.2,179.0 575.6,179.1 575.9,182.1 576.2,172.2 576.5,175.2 576.9,183.7 577.2,173.9 577.5,176.9 577.8,174.7 578.1,183.2 578.5,170.2 578.8,178.2 579.1,181.5 579.4,184.1 579.8,182.7 580.1,176.5 580.4,183.0 580.7,175.2 581.1,178.0 581.4,173.5 581.7,176.4 582.0,181.2 582.4,191.6 582.7,178.9 583.0,176.1 583.3,179.7 583.6,177.5 584.0,183.5 584.3,183.1 584.6,186.5 584.9,173.6 585.3,180.7 585.6,184.7 585.9,189.9 586.2,183.6 586.6,174.9 586.9,180.9 587.2,188.2 587.5,176.5 587.9,177.3 588.2,180.6 588.5,182.5 588.8,181.2 589.1,185.5 589.5,185.0 589.8,194.6 590.1,182.4 590.4,190.3 590.8,180.8 591.1,204.5 591.4,189.5 591.7,188.3 592.1,196.3 592.4,192.1 592.7,190.7 593.0,191.9 593.4,198.5 593.7,196.4 594.0,189.8 594.3,188.0 594.6,194.5 595.0,194.3 595.3,193.4 595.6,188.5 595.9,200.3 596.3,201.7 596.6,193.4 596.9,200.4 597.2,197.5 597.6,193.8 597.9,191.6 598.2,200.6 598.5,190.0 598.9,204.4 599.2,190.5 599.5,201.8 599.8,199.3 600.1,187.6 600.5,192.7 600.8,194.0 601.1,191.1 601.4,184.9 601.8,186.7 602.1,185.4 602.4,178.0 602.7,186.7 603.1,184.0 603.4,182.8 603.7,172.2 604.0,172.5 604.4,170.2 604.7,177.1 605.0,177.2 605.3,170.9 605.6,177.5 606.0,170.1 606.3,170.3 606.6,178.1 606.9,174.4 607.3,174.5 607.6,163.8 607.9,159.0 608.2,174.3 608.6,173.7 608.9,186.9 609.2,172.8 609.5,174.2 609.9,180.4 610.2,169.9 610.5,183.4 610.8,175.8 611.1,173.9 611.5,181.8 611.8,169.8 612.1,168.6 612.4,182.5 612.8,182.5 613.1,171.0 613.4,174.4 613.7,180.9 614.1,175.5 614.4,174.1 614.7,174.1 615.0,168.3 615.4,170.6 615.7,162.5 616.0,164.5 616.3,168.3 616.6,165.9 617.0,164.4 617.3,167.8 617.6,178.7 617.9,166.8 618.3,171.3 618.6,162.5 618.9,171.2 619.2,168.8 619.6,170.0 619.9,162.4 620.2,171.1 620.5,173.8 620.8,170.6 621.2,175.0 621.5,171.7 621.8,172.8 622.1,171.3 622.5,162.1 622.8,175.4 623.1,173.0 623.4,174.4 623.8,169.5 624.1,180.1 624.4,177.3 624.7,173.5 625.1,170.1 625.4,173.4 625.7,175.8 626.0,177.8 626.3,169.8 626.7,164.3 627.0,170.5 627.3,171.1 627.6,169.5 628.0,177.2 628.3,173.5 628.6,173.1 628.9,169.8 629.3,171.5 629.6,178.1 629.9,164.7 630.2,161.4 630.6,172.5 630.9,168.6 631.2,169.4 631.5,166.5 631.8,179.5 632.2,162.0 632.5,174.0 632.8,164.5 633.1,171.5 633.5,174.6 633.8,173.6 634.1,168.2 634.4,178.7 634.8,176.5 635.1,177.7 635.4,185.3 635.7,168.7 636.1,173.3 636.4,177.2 636.7,170.9 637.0,183.3 637.3,178.6 637.7,168.5 638.0,172.9 638.3,191.2 638.6,197.5 639.0,184.4 639.3,172.4 639.6,181.0 639.9,179.4 640.3,174.5 640.6,182.9 640.9,176.5 641.2,173.1 641.6,174.9 641.9,175.3 642.2,181.0 642.5,174.8 642.8,180.2 643.2,170.5 643.5,163.5 643.8,182.5 644.1,190.9 644.5,181.1 644.8,176.6 645.1,172.9 645.4,172.7 645.8,183.1 646.1,183.0 646.4,171.0 646.7,184.0 647.1,171.0 647.4,177.9 647.7,171.5 648.0,171.0 648.3,169.7 648.7,168.5 649.0,177.8 649.3,169.5 649.6,170.1 650.0,167.5 650.3,161.3 650.6,169.0 650.9,170.7 651.3,170.2 651.6,167.3 651.9,160.8 652.2,169.5 652.6,158.1 652.9,163.1 653.2,166.2 653.5,172.7 653.8,164.2 654.2,162.1 654.5,176.7 654.8,160.5 655.1,158.6 655.5,166.7 655.8,166.6 656.1,156.3 656.4,163.7 656.8,176.5 657.1,172.1 657.4,173.4 657.7,173.8 658.1,186.8 658.4,169.3 658.7,177.5 659.0,173.2 659.3,175.0 659.7,169.3 660.0,175.9 660.3,178.7 660.6,171.0 661.0,165.8 661.3,175.4 661.6,165.5 661.9,171.5 662.3,175.7 662.6,163.7 662.9,176.8 663.2,166.1 663.6,174.5 663.9,169.0 664.2,178.5 664.5,176.3 664.8,165.5 665.2,170.6 665.5,171.6 665.8,174.6 666.1,169.8 666.5,180.5 666.8,179.2 667.1,173.9 667.4,178.0 667.8,177.4 668.1,173.9 668.4,174.2 668.7,174.6 669.1,163.7 669.4,167.2 669.7,165.7 670.0,172.4 670.3,174.7 670.7,179.6 671.0,172.8 671.3,182.2 671.6,173.2 672.0,165.1 672.3,159.8 672.6,163.2 672.9,173.3 673.3,165.5 673.6,172.8 673.9,163.8 674.2,169.4 674.6,164.2 674.9,155.0 675.2,165.0 675.5,157.8 675.8,170.8 676.2,174.6 676.5,166.1 676.8,164.8 677.1,178.6 677.5,175.9 677.8,185.4 678.1,179.1 678.4,173.6 678.8,179.7 679.1,182.9 679.4,188.0 679.7,178.2 680.1,175.8 680.4,177.0 680.7,178.8 681.0,187.4 681.3,169.8 681.7,179.8 682.0,179.9 682.3,174.5 682.6,190.4 683.0,178.0 683.3,177.9 683.6,174.4 683.9,168.4 684.3,172.8 684.6,185.4 684.9,176.5 685.2,173.0 685.6,172.9 685.9,180.7 686.2,182.7 686.5,169.9 686.8,171.0 687.2,173.0 687.5,182.8 687.8,163.0 688.1,189.7 688.5,175.5 688.8,161.9 689.1,175.0 689.4,173.1 689.8,181.5 690.1,167.4 690.4,182.8 690.7,174.4 691.1,175.4 691.4,182.4 691.7,171.6 692.0,184.8 692.3,180.8 692.7,177.1 693.0,179.3 693.3,174.3 693.6,171.6 694.0,178.4 694.3,179.7 694.6,179.4 694.9,178.4 695.3,171.6 695.6,177.3 695.9,173.7 696.2,176.4 696.6,180.7 696.9,171.0 697.2,181.8 697.5,175.9 697.8,167.6 698.2,182.4 698.5,176.7 698.8,185.6 699.1,179.7 699.5,185.5 699.8,179.3 700.1,180.5 700.4,176.9 700.8,168.9 701.1,176.4 701.4,174.5 701.7,178.7 702.1,179.9 702.4,183.4 702.7,189.1 703.0,178.6 703.3,169.9 703.7,176.7 704.0,182.7 704.3,170.5 704.6,182.6 705.0,184.0 705.3,187.6 705.6,186.5 705.9,182.8 706.3,170.3 706.6,183.2 706.9,188.2 707.2,186.1 707.6,184.1 707.9,192.8 708.2,182.6 708.5,179.4 708.8,181.6 709.2,180.1 709.5,190.7 709.8,192.9 710.1,175.7 710.5,176.5 710.8,191.2 711.1,180.9 711.4,181.5 711.8,178.2 712.1,179.7 712.4,183.3 712.7,179.0 713.1,178.9 713.4,179.8 713.7,189.9 714.0,196.4 714.3,183.8 714.7,188.7 715.0,178.2 715.3,175.7 715.6,178.4 716.0,182.2 716.3,179.9 716.6,173.9 716.9,184.8 717.3,175.5 717.6,176.8 717.9,179.4 718.2,172.6 718.6,184.8 718.9,175.3 719.2,185.8 719.5,184.7 719.8,186.3 720.2,177.6 720.5,185.4 720.8,179.7 721.1,186.4 721.5,173.9 721.8,169.6 722.1,178.8 722.4,170.9 722.8,177.2 723.1,168.2 723.4,180.2 723.7,189.8 724.1,172.6 724.4,181.9 724.7,187.2 725.0,185.1 725.3,190.8 725.7,182.5 726.0,187.7 726.3,173.3 726.6,178.0 727.0,191.3 727.3,190.5 727.6,185.3 727.9,193.2 728.3,183.0 728.6,182.8 728.9,187.2 729.2,186.2 729.6,180.5 729.9,175.6 730.2,175.4 730.5,184.0 730.8,179.6 731.2,189.0 731.5,182.7 731.8,190.7 732.1,181.2 732.5,192.4 732.8,190.9 733.1,185.4 733.4,182.1 733.8,193.3 734.1,187.9 734.4,183.9 734.7,183.0 735.1,188.8 735.4,183.1 735.7,184.9 736.0,175.0 736.3,179.5 736.7,189.8 737.0,194.5 737.3,181.2 737.6,174.7 738.0,180.2 738.3,176.0 738.6,183.6 738.9,188.4 739.3,176.3 739.6,179.9 739.9,176.5 740.2,188.2 740.6,179.4 740.9,184.0 741.2,176.0 741.5,184.1 741.8,184.5 742.2,184.7 742.5,174.5 742.8,181.9 743.1,186.8 743.5,188.7 743.8,189.3 744.1,175.5 744.4,194.5 744.8,189.5 745.1,181.4 745.4,178.7 745.7,186.6 746.1,181.6 746.4,182.0 746.7,180.9 747.0,186.5 747.3,177.5 747.7,185.9 748.0,178.5 748.3,193.6 748.6,182.1 749.0,194.7 749.3,196.1 749.6,184.8 749.9,192.3 750.3,185.0 750.6,193.5 750.9,178.0 751.2,186.8 751.6,193.0 751.9,185.2 752.2,180.7 752.5,189.5 752.8,181.6 753.2,172.3 753.5,178.4 753.8,182.8 754.1,185.4 754.5,178.3 754.8,189.7 755.1,197.8 755.4,183.9 755.8,185.9 756.1,169.6 756.4,178.4 756.7,184.7 757.1,185.5 757.4,175.7 757.7,182.9 758.0,181.2 758.3,178.1 758.7,176.8 759.0,176.5 759.3,176.1 759.6,169.1 760.0,166.6 760.3,185.5 760.6,161.3 760.9,175.1 761.3,168.6 761.6,179.8 761.9,173.7 762.2,174.4 762.6,175.0 762.9,170.8 763.2,172.1 763.5,181.4 763.8,176.4 764.2,171.6 764.5,171.7 764.8,177.5 765.1,177.0 765.5,176.1 765.8,181.4 766.1,182.1 766.4,165.6 766.8,176.5 767.1,173.5 767.4,178.0 767.7,166.0 768.1,163.2 768.4,174.1 768.7,169.7 769.0,176.7 769.3,162.2 769.7,166.8 770.0,176.6 770.3,164.7 770.6,169.8 771.0,169.4 771.3,169.7 771.6,175.5 771.9,174.6 772.3,167.9 772.6,171.6 772.9,176.6 773.2,159.4 773.6,172.0 773.9,173.8 774.2,174.4 774.5,166.3 774.8,164.5 775.2,168.5 775.5,164.9 775.8,178.2 776.1,171.7 776.5,172.2 776.8,169.4 777.1,166.6 777.4,180.9 777.8,151.4 778.1,174.0 778.4,166.9 778.7,163.9 779.1,163.5 779.4,166.7 779.7,184.2" fill="none" stroke="#1472d4" stroke-width="2.2" stroke-linejoin="miter"/>
<polyline points="456.5,207.7 456.8,204.3 457.1,197.1 457.5,197.8 457.8,202.2 458.1,195.4 458.4,195.0 458.8,190.5 459.1,193.3 459.4,186.5 459.7,184.9 460.1,179.5 460.4,181.5 460.7,179.4 461.0,186.6 461.4,177.5 461.7,190.8 462.0,183.8 462.3,189.4 462.6,192.5 463.0,193.4 463.3,194.7 463.6,192.9 463.9,195.5 464.3,192.3 464.6,202.9 464.9,196.1 465.2,197.0 465.6,190.6 465.9,197.2 466.2,190.6 466.5,187.4 466.9,190.6 467.2,180.8 467.5,180.4 467.8,175.3 468.1,172.8 468.5,178.8 468.8,178.7 469.1,177.5 469.4,175.2 469.8,175.3 470.1,180.3 470.4,180.5 470.7,181.6 471.1,181.4 471.4,180.8 471.7,180.9 472.0,173.7 472.4,183.3 472.7,183.0 473.0,180.2 473.3,185.7 473.6,183.5 474.0,182.1 474.3,179.1 474.6,188.0 474.9,176.8 475.3,184.5 475.6,182.5 475.9,179.7 476.2,180.9 476.6,179.4 476.9,183.9 477.2,185.2 477.5,184.1 477.9,190.7 478.2,180.6 478.5,190.4 478.8,193.1 479.1,177.4 479.5,188.3 479.8,193.6 480.1,178.8 480.4,189.6 480.8,182.6 481.1,191.9 481.4,188.8 481.7,195.8 482.1,196.6 482.4,191.5 482.7,186.3 483.0,181.3 483.4,172.2 483.7,189.6 484.0,178.2 484.3,186.1 484.6,183.1 485.0,189.7 485.3,189.2 485.6,184.9 485.9,186.7 486.3,179.8 486.6,183.3 486.9,172.3 487.2,178.1 487.6,177.7 487.9,172.1 488.2,175.4 488.5,178.4 488.9,178.6 489.2,178.7 489.5,171.8 489.8,173.4 490.1,175.7 490.5,173.3 490.8,180.9 491.1,174.9 491.4,185.9 491.8,170.3 492.1,177.6 492.4,177.3 492.7,175.2 493.1,179.1 493.4,180.9 493.7,173.2 494.0,179.8 494.4,186.3 494.7,179.2 495.0,192.0 495.3,173.6 495.6,184.6 496.0,183.9 496.3,171.9 496.6,173.0 496.9,185.0 497.3,182.4 497.6,180.0 497.9,176.8 498.2,187.2 498.6,185.7 498.9,179.4 499.2,184.7 499.5,181.7 499.9,182.1 500.2,191.7 500.5,189.7 500.8,199.4 501.1,185.4 501.5,175.8 501.8,189.2 502.1,175.3 502.4,176.2 502.8,181.7 503.1,181.0 503.4,180.1 503.7,185.2 504.1,181.7 504.4,180.2 504.7,176.4 505.0,175.4 505.4,184.2 505.7,175.5 506.0,184.9 506.3,181.7 506.6,179.0 507.0,181.6 507.3,182.7 507.6,180.9 507.9,186.1 508.3,187.1 508.6,185.1 508.9,178.9 509.2,185.4 509.6,174.4 509.9,184.4 510.2,202.9 510.5,188.7 510.9,177.0 511.2,186.6 511.5,189.2 511.8,191.7 512.1,179.1 512.5,180.8 512.8,182.5 513.1,183.6 513.4,177.5 513.8,180.7 514.1,192.0 514.4,180.2 514.7,183.2 515.1,184.4 515.4,179.0 515.7,182.9 516.0,199.4 516.4,173.7 516.7,176.5 517.0,183.0 517.3,184.4 517.6,181.0 518.0,189.6 518.3,180.7 518.6,183.9 518.9,184.7 519.3,188.1 519.6,186.8 519.9,176.8 520.2,175.6 520.6,180.3 520.9,183.4 521.2,188.1 521.5,178.9 521.9,173.6 522.2,191.7 522.5,175.6 522.8,194.2 523.1,183.5 523.5,179.0 523.8,188.5 524.1,188.9 524.4,178.9 524.8,174.5 525.1,181.8 525.4,171.1 525.7,182.9 526.1,168.2 526.4,177.2 526.7,176.4 527.0,174.1 527.4,175.7 527.7,167.1 528.0,165.0 528.3,174.5 528.6,178.6 529.0,184.5 529.3,182.2 529.6,178.1 529.9,178.9 530.3,178.7 530.6,178.6 530.9,176.0 531.2,186.7 531.6,185.0 531.9,172.9 532.2,174.7 532.5,182.5 532.9,172.2 533.2,183.4 533.5,181.0 533.8,189.9 534.1,174.6 534.5,179.4 534.8,173.1 535.1,175.1 535.4,178.4 535.8,177.8 536.1,171.8 536.4,179.4 536.7,179.2 537.1,177.8 537.4,173.5 537.7,172.8 538.0,167.1 538.4,178.5 538.7,170.9 539.0,181.9 539.3,174.9 539.6,177.8 540.0,169.0 540.3,175.7 540.6,182.1 540.9,176.7 541.3,178.4 541.6,182.7 541.9,183.0 542.2,187.2 542.6,166.7 542.9,182.0 543.2,177.7 543.5,190.3 543.9,190.2 544.2,185.2 544.5,185.4 544.8,180.2 545.1,190.6 545.5,181.9 545.8,176.3 546.1,190.1 546.4,179.6 546.8,190.1 547.1,182.5 547.4,182.2 547.7,174.2 548.1,187.8 548.4,182.6 548.7,177.4 549.0,189.8 549.4,182.9 549.7,187.6 550.0,186.4 550.3,178.4 550.6,178.1 551.0,167.2 551.3,173.9 551.6,174.3 551.9,182.5 552.3,183.3 552.6,180.8 552.9,194.6 553.2,172.3 553.6,185.6 553.9,188.0 554.2,184.7 554.5,177.3 554.9,175.4 555.2,184.8 555.5,180.4 555.8,183.4 556.1,189.0 556.5,182.6 556.8,183.6 557.1,192.7 557.4,177.9 557.8,193.3 558.1,183.3 558.4,190.8 558.7,189.7 559.1,189.3 559.4,181.5 559.7,192.8 560.0,186.9 560.4,177.1 560.7,189.9 561.0,186.2 561.3,182.3 561.6,189.4 562.0,183.3 562.3,189.7 562.6,181.9 562.9,185.5 563.3,191.1 563.6,177.7 563.9,186.2 564.2,187.3 564.6,191.0 564.9,188.5 565.2,186.5 565.5,185.1 565.9,180.1 566.2,194.0 566.5,188.8 566.8,180.5 567.1,186.8 567.5,185.9 567.8,179.6 568.1,187.1 568.4,186.7 568.8,189.8 569.1,179.7 569.4,184.0 569.7,193.6 570.1,185.1 570.4,193.4 570.7,179.3 571.0,180.3 571.4,183.6 571.7,183.5 572.0,189.9 572.3,173.9 572.6,177.4 573.0,177.0 573.3,169.7 573.6,176.1 573.9,174.2 574.3,173.4 574.6,176.0 574.9,154.0 575.2,168.2 575.6,168.6 575.9,161.0 576.2,183.6 576.5,165.4 576.9,164.8 577.2,170.0 577.5,161.6 577.8,175.4 578.1,163.5 578.5,158.2 578.8,175.6 579.1,171.0 579.4,163.4 579.8,162.4 580.1,165.7 580.4,159.8 580.7,160.2 581.1,169.1 581.4,161.8 581.7,168.3 582.0,172.6 582.4,174.4 582.7,154.8 583.0,161.6 583.3,149.9 583.6,169.5 584.0,163.4 584.3,159.6 584.6,162.4 584.9,158.8 585.3,160.9 585.6,165.3 585.9,175.1 586.2,167.2 586.6,152.0 586.9,157.4 587.2,154.0 587.5,165.1 587.9,162.9 588.2,166.9 588.5,159.7 588.8,161.7 589.1,159.9 589.5,153.1 589.8,168.6 590.1,160.4 590.4,173.4 590.8,160.0 591.1,169.6 591.4,168.3 591.7,168.0 592.1,160.2 592.4,170.5 592.7,173.9 593.0,178.6 593.4,171.0 593.7,178.1 594.0,176.4 594.3,173.7 594.6,169.7 595.0,177.6 595.3,169.7 595.6,163.4 595.9,181.9 596.3,165.8 596.6,161.3 596.9,177.0 597.2,170.2 597.6,181.6 597.9,172.0 598.2,175.8 598.5,172.3 598.9,179.3 599.2,178.7 599.5,176.5 599.8,177.9 600.1,177.1 600.5,174.5 600.8,179.3 601.1,173.4 601.4,169.3 601.8,184.7 602.1,169.8 602.4,174.7 602.7,176.3 603.1,177.1 603.4,173.8 603.7,172.7 604.0,166.1 604.4,174.9 604.7,161.5 605.0,171.8 605.3,163.1 605.6,160.7 606.0,173.7 606.3,160.7 606.6,154.4 606.9,169.4 607.3,163.6 607.6,167.8 607.9,166.8 608.2,168.6 608.6,170.6 608.9,163.9 609.2,163.2 609.5,168.6 609.9,160.3 610.2,163.0 610.5,165.5 610.8,173.9 611.1,159.3 611.5,162.9 611.8,182.9 612.1,177.2 612.4,173.8 612.8,166.0 613.1,164.3 613.4,173.1 613.7,170.1 614.1,167.5 614.4,178.7 614.7,168.0 615.0,173.0 615.4,170.1 615.7,171.3 616.0,177.6 616.3,176.5 616.6,170.6 617.0,170.2 617.3,172.5 617.6,165.2 617.9,173.5 618.3,178.6 618.6,174.0 618.9,173.4 619.2,173.6 619.6,166.6 619.9,170.7 620.2,168.0 620.5,170.7 620.8,175.4 621.2,168.8 621.5,176.2 621.8,173.3 622.1,180.3 622.5,173.9 622.8,176.1 623.1,171.8 623.4,163.2 623.8,159.7 624.1,166.9 624.4,172.5 624.7,167.1 625.1,170.1 625.4,174.4 625.7,170.8 626.0,171.5 626.3,173.1 626.7,161.5 627.0,172.1 627.3,171.7 627.6,164.6 628.0,172.5 628.3,175.0 628.6,173.3 628.9,165.8 629.3,166.6 629.6,167.2 629.9,171.8 630.2,174.6 630.6,164.6 630.9,178.3 631.2,171.6 631.5,178.3 631.8,173.3 632.2,172.2 632.5,164.6 632.8,188.1 633.1,164.1 633.5,177.0 633.8,170.3 634.1,167.3 634.4,176.1 634.8,172.1 635.1,168.6 635.4,172.0 635.7,175.2 636.1,169.8 636.4,170.0 636.7,179.0 637.0,162.6 637.3,169.0 637.7,184.0 638.0,174.9 638.3,160.4 638.6,161.2 639.0,168.7 639.3,179.9 639.6,171.8 639.9,164.6 640.3,168.5 640.6,172.7 640.9,175.2 641.2,166.4 641.6,172.4 641.9,169.5 642.2,168.6 642.5,162.2 642.8,170.5 643.2,170.2 643.5,181.9 643.8,165.4 644.1,166.7 644.5,171.9 644.8,184.8 645.1,175.1 645.4,171.5 645.8,160.0 646.1,168.6 646.4,167.4 646.7,167.2 647.1,164.1 647.4,178.1 647.7,176.3 648.0,178.0 648.3,172.6 648.7,172.8 649.0,169.9 649.3,176.0 649.6,169.4 650.0,174.5 650.3,157.3 650.6,172.2 650.9,154.5 651.3,159.5 651.6,175.6 651.9,163.3 652.2,165.3 652.6,177.6 652.9,165.5 653.2,169.6 653.5,167.2 653.8,174.2 654.2,169.9 654.5,167.3 654.8,170.9 655.1,173.4 655.5,171.0 655.8,175.8 656.1,168.4 656.4,185.1 656.8,162.1 657.1,170.6 657.4,168.4 657.7,166.5 658.1,178.7 658.4,158.9 658.7,178.6 659.0,169.9 659.3,171.0 659.7,165.7 660.0,173.6 660.3,181.9 660.6,172.3 661.0,188.4 661.3,175.7 661.6,177.4 661.9,166.0 662.3,176.7 662.6,177.7 662.9,179.5 663.2,180.1 663.6,178.5 663.9,171.9 664.2,182.8 664.5,176.5 664.8,183.6 665.2,176.2 665.5,174.3 665.8,182.2 666.1,178.4 666.5,174.4 666.8,170.4 667.1,169.2 667.4,175.0 667.8,179.8 668.1,183.0 668.4,169.0 668.7,165.1 669.1,170.5 669.4,163.3 669.7,174.4 670.0,173.6 670.3,162.1 670.7,176.5 671.0,167.0 671.3,168.0 671.6,169.1 672.0,159.9 672.3,174.7 672.6,172.0 672.9,181.5 673.3,175.5 673.6,172.5 673.9,171.8 674.2,170.8 674.6,167.9 674.9,173.5 675.2,181.1 675.5,169.0 675.8,167.5 676.2,176.6 676.5,174.6 676.8,160.2 677.1,164.5 677.5,164.3 677.8,166.9 678.1,170.1 678.4,174.0 678.8,168.0 679.1,172.7 679.4,174.3 679.7,172.1 680.1,172.7 680.4,167.4 680.7,178.3 681.0,158.8 681.3,179.1 681.7,176.0 682.0,168.4 682.3,178.9 682.6,177.1 683.0,174.4 683.3,191.8 683.6,177.9 683.9,180.7 684.3,176.8 684.6,172.6 684.9,171.9 685.2,167.1 685.6,167.5 685.9,169.8 686.2,176.0 686.5,169.7 686.8,181.3 687.2,176.1 687.5,167.2 687.8,170.8 688.1,183.2 688.5,178.3 688.8,169.5 689.1,170.9 689.4,168.0 689.8,183.9 690.1,180.7 690.4,174.5 690.7,178.3 691.1,172.5 691.4,171.8 691.7,169.5 692.0,171.9 692.3,167.6 692.7,166.1 693.0,169.4 693.3,177.1 693.6,162.6 694.0,168.6 694.3,167.4 694.6,168.9 694.9,179.2 695.3,166.7 695.6,174.0 695.9,177.4 696.2,163.2 696.6,172.5 696.9,169.3 697.2,166.1 697.5,162.1 697.8,182.0 698.2,176.1 698.5,168.2 698.8,176.1 699.1,191.1 699.5,171.7 699.8,171.3 700.1,168.2 700.4,171.5 700.8,175.4 701.1,171.8 701.4,173.2 701.7,176.0 702.1,171.7 702.4,171.1 702.7,179.0 703.0,167.3 703.3,168.4 703.7,168.6 704.0,188.7 704.3,172.2 704.6,173.4 705.0,178.3 705.3,169.1 705.6,180.8 705.9,165.0 706.3,169.7 706.6,174.6 706.9,163.4 707.2,168.8 707.6,169.4 707.9,178.7 708.2,168.2 708.5,163.1 708.8,164.8 709.2,178.4 709.5,163.1 709.8,161.8 710.1,166.1 710.5,173.1 710.8,179.4 711.1,175.9 711.4,173.8 711.8,168.7 712.1,166.9 712.4,174.1 712.7,178.9 713.1,171.6 713.4,176.5 713.7,160.9 714.0,175.2 714.3,165.1 714.7,162.9 715.0,173.0 715.3,161.4 715.6,167.8 716.0,171.5 716.3,172.3 716.6,166.3 716.9,160.9 717.3,178.2 717.6,164.0 717.9,168.8 718.2,172.6 718.6,169.4 718.9,169.3 719.2,170.1 719.5,165.7 719.8,176.0 720.2,160.0 720.5,166.6 720.8,175.5 721.1,183.4 721.5,172.7 721.8,174.9 722.1,168.3 722.4,168.2 722.8,161.1 723.1,172.4 723.4,166.6 723.7,173.0 724.1,172.2 724.4,160.6 724.7,169.6 725.0,169.0 725.3,170.0 725.7,165.8 726.0,163.9 726.3,167.8 726.6,173.6 727.0,165.0 727.3,171.7 727.6,169.1 727.9,165.9 728.3,165.9 728.6,180.9 728.9,158.0 729.2,163.5 729.6,157.2 729.9,154.2 730.2,174.3 730.5,172.5 730.8,168.1 731.2,164.5 731.5,173.1 731.8,172.2 732.1,164.4 732.5,175.9 732.8,169.8 733.1,164.9 733.4,172.7 733.8,166.8 734.1,172.0 734.4,180.5 734.7,174.5 735.1,172.5 735.4,173.3 735.7,171.1 736.0,168.9 736.3,169.5 736.7,170.0 737.0,173.5 737.3,172.2 737.6,173.0 738.0,174.3 738.3,163.0 738.6,181.8 738.9,169.6 739.3,180.4 739.6,174.5 739.9,166.6 740.2,172.9 740.6,163.3 740.9,176.8 741.2,173.3 741.5,175.4 741.8,172.0 742.2,174.1 742.5,174.7 742.8,172.3 743.1,166.8 743.5,172.6 743.8,173.5 744.1,175.9 744.4,178.8 744.8,183.5 745.1,181.8 745.4,176.2 745.7,187.9 746.1,173.8 746.4,180.5 746.7,184.0 747.0,182.3 747.3,175.8 747.7,177.8 748.0,178.6 748.3,170.2 748.6,166.9 749.0,187.5 749.3,175.0 749.6,184.1 749.9,187.4 750.3,182.2 750.6,173.0 750.9,179.9 751.2,180.2 751.6,168.8 751.9,173.3 752.2,176.1 752.5,164.9 752.8,172.0 753.2,178.6 753.5,180.4 753.8,176.5 754.1,173.1 754.5,168.7 754.8,169.3 755.1,173.6 755.4,181.2 755.8,169.4 756.1,174.4 756.4,181.5 756.7,182.6 757.1,174.6 757.4,174.2 757.7,171.8 758.0,183.6 758.3,165.9 758.7,187.4 759.0,177.3 759.3,169.4 759.6,171.1 760.0,182.5 760.3,173.4 760.6,169.8 760.9,172.6 761.3,182.3 761.6,167.0 761.9,185.8 762.2,176.1 762.6,182.3 762.9,178.5 763.2,177.8 763.5,173.0 763.8,183.0 764.2,174.4 764.5,168.1 764.8,175.0 765.1,172.3 765.5,172.9 765.8,179.6 766.1,177.5 766.4,175.0 766.8,172.6 767.1,163.7 767.4,166.0 767.7,178.0 768.1,177.9 768.4,181.3 768.7,188.9 769.0,168.2 769.3,172.8 769.7,187.2 770.0,176.1 770.3,162.9 770.6,173.8 771.0,173.9 771.3,175.9 771.6,181.8 771.9,184.3 772.3,182.6 772.6,177.2 772.9,179.7 773.2,174.5 773.6,168.6 773.9,175.4 774.2,174.2 774.5,181.2 774.8,186.7 775.2,166.9 775.5,175.3 775.8,172.7 776.1,181.7 776.5,189.2 776.8,171.8 777.1,191.7 777.4,180.1 777.8,181.9 778.1,177.3 778.4,173.6 778.7,173.2 779.1,189.6 779.4,171.4 779.7,187.6" fill="none" stroke="#0e8a2a" stroke-width="2.2" stroke-linejoin="miter"/>
<rect x="440.0" y="54.5" width="355.4" height="231.0" fill="none" stroke="#b0b0b0" stroke-width="1"/>
<path d="M456.5,285.5V281.5M456.5,54.5V58.5M521.1,285.5V281.5M521.1,54.5V58.5M585.8,285.5V281.5M585.8,54.5V58.5M650.4,285.5V281.5M650.4,54.5V58.5M715.1,285.5V281.5M715.1,54.5V58.5M779.7,285.5V281.5M779.7,54.5V58.5M440.0,267.5H444.0M795.4,267.5H791.4M440.0,232.5H444.0M795.4,232.5H791.4M440.0,196.5H444.0M795.4,196.5H791.4M440.0,161.5H444.0M795.4,161.5H791.4M440.0,125.5H444.0M795.4,125.5H791.4M440.0,90.5H444.0M795.4,90.5H791.4" stroke="#606060" stroke-width="1" fill="none"/>
<text x="456.5" y="293" text-anchor="middle" class="t">0</text>
<text x="521.1" y="293" text-anchor="middle" class="t">20</text>
<text x="585.8" y="293" text-anchor="middle" class="t">40</text>
<text x="650.4" y="293" text-anchor="middle" class="t">60</text>
<text x="715.1" y="293" text-anchor="middle" class="t">80</text>
<text x="779.7" y="293" text-anchor="middle" class="t">100</text>
<text x="438" y="271.5" text-anchor="end" class="t">260</text>
<text x="438" y="236.0" text-anchor="end" class="t">280</text>
<text x="438" y="200.5" text-anchor="end" class="t">300</text>
<text x="438" y="164.9" text-anchor="end" class="t">320</text>
<text x="438" y="129.4" text-anchor="end" class="t">340</text>
<text x="438" y="93.8" text-anchor="end" class="t">360</text>
<text x="438" y="58.3" text-anchor="end" class="t">380</text>
<text x="600.5" y="302.2" class="t" textLength="35.2" lengthAdjust="spacingAndGlyphs">Time (ns)</text>
<text transform="translate(419.5,170) rotate(-90)" x="-21.8" class="t" textLength="43.6" lengthAdjust="spacingAndGlyphs">SASA (nm²)</text>
<rect x="729.5" y="58.5" width="62.0" height="25.0" rx="1.5" fill="#fff" stroke="#e0e0e0" stroke-width="1"/>
<path d="M732.0,64.5H749.5" stroke="#1472d4" stroke-width="1.8"/>
<path d="M732.0,76.5H749.5" stroke="#0e8a2a" stroke-width="1.8"/>
<text x="754.8" y="67.8" class="l" textLength="34" lengthAdjust="spacingAndGlyphs">AAK1_17</text>
<text x="754.8" y="79.3" class="l" textLength="20.9" lengthAdjust="spacingAndGlyphs">AAK1</text>
</svg>
</body></html>
